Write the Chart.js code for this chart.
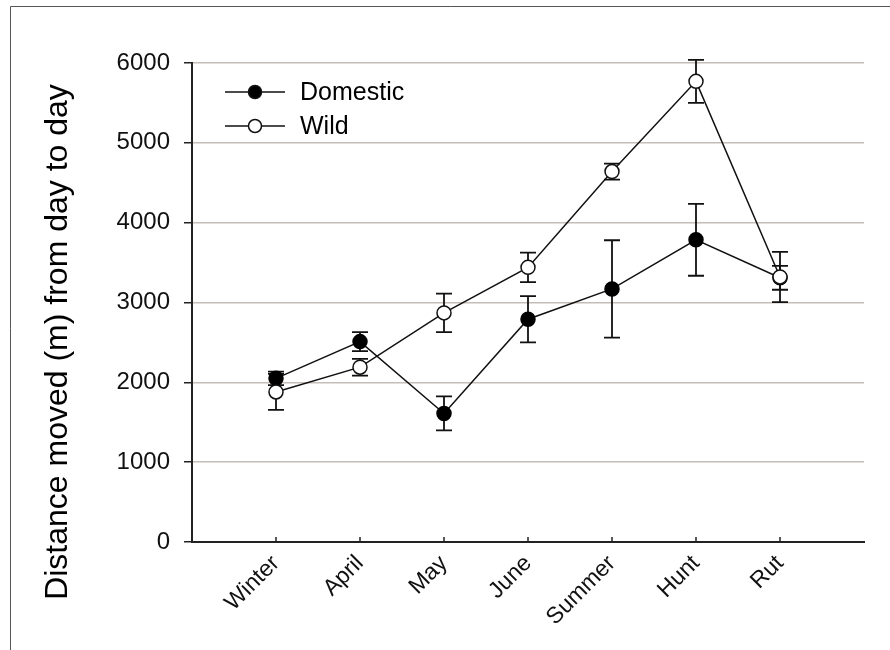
<!DOCTYPE html>
<html>
<head>
<meta charset="utf-8">
<script src="https://cdn.jsdelivr.net/npm/chart.js@4"></script>
<style>
  html, body { margin: 0; padding: 0; background: #fff; }
  #wrap { width: 890px; height: 650px; position: relative; }
</style>
</head>
<body>
<div id="wrap"><canvas id="chart" width="890" height="650"></canvas></div>
<script>
const categories = ["Winter", "April", "May", "June", "Summer", "Hunt", "Rut"];
const domestic = [2050, 2510, 1610, 2790, 3170, 3785, 3310];
const domesticErr = [85, 120, 213, 290, 610, 450, 150];
const wild = [1880, 2190, 2870, 3440, 4640, 5770, 3320];
const wildErr = [225, 105, 240, 185, 100, 270, 315];
const yTicks = [0, 1000, 2000, 3000, 4000, 5000, 6000];

const FONT = "'Liberation Sans', Arial, sans-serif";
const GRIDCOLOR = "#c6bdb9";
const AXISCOLOR = "#222";

function points(values) {
    return values.map((v, i) => ({ x: i + 1, y: v }));
}

// error bars, axis ticks, title, legend and frame
const decorations = {
    id: "decorations",
    beforeDatasetsDraw(chart) {
        const ctx = chart.ctx;
        const xs = chart.scales.x;
        const ys = chart.scales.y;
        const sets = [[domestic, domesticErr], [wild, wildErr]];
        ctx.save();
        ctx.strokeStyle = "#111";
        ctx.lineWidth = 1.8;
        sets.forEach(([vals, errs]) => {
            vals.forEach((v, i) => {
                const x = xs.getPixelForValue(i + 1);
                const top = ys.getPixelForValue(v + errs[i]);
                const bot = ys.getPixelForValue(v - errs[i]);
                ctx.beginPath();
                ctx.moveTo(x, top); ctx.lineTo(x, bot);
                ctx.moveTo(x - 8, top); ctx.lineTo(x + 8, top);
                ctx.moveTo(x - 8, bot); ctx.lineTo(x + 8, bot);
                ctx.stroke();
            });
        });
        // small inward ticks on x axis
        ctx.lineWidth = 1.5;
        ctx.strokeStyle = AXISCOLOR;
        categories.forEach((c, i) => {
            const x = xs.getPixelForValue(i + 1);
            ctx.beginPath();
            ctx.moveTo(x, chart.chartArea.bottom);
            ctx.lineTo(x, chart.chartArea.bottom - 5);
            ctx.stroke();
        });
        ctx.restore();
    },
    afterDraw(chart) {
        const ctx = chart.ctx;
        ctx.save();
        // frame
        ctx.strokeStyle = "#555";
        ctx.lineWidth = 1;
        ctx.beginPath();
        ctx.moveTo(10.5, 660);
        ctx.lineTo(10.5, 6.5);
        ctx.lineTo(900, 6.5);
        ctx.stroke();

        // y axis title
        ctx.fillStyle = "#000";
        ctx.font = "32px " + FONT;
        ctx.textAlign = "center";
        ctx.textBaseline = "middle";
        ctx.translate(58, 342);
        ctx.rotate(-Math.PI / 2);
        ctx.fillText("Distance moved (m) from day to day", 0, 0);
        ctx.restore();

        // legend
        ctx.save();
        const items = [
            { label: "Domestic", fill: "#000", y: 92 },
            { label: "Wild", fill: "#fff", y: 126 }
        ];
        items.forEach(it => {
            ctx.strokeStyle = "#111";
            ctx.lineWidth = 1.5;
            ctx.beginPath();
            ctx.moveTo(225, it.y); ctx.lineTo(285, it.y);
            ctx.stroke();
            ctx.beginPath();
            ctx.arc(255, it.y, 6.5, 0, Math.PI * 2);
            ctx.fillStyle = it.fill;
            ctx.fill();
            ctx.stroke();
            ctx.fillStyle = "#000";
            ctx.font = "25px " + FONT;
            ctx.textAlign = "left";
            ctx.textBaseline = "middle";
            ctx.fillText(it.label, 300, it.y + 1);
        });
        ctx.restore();
    }
};

const ctx = document.querySelector("#chart").getContext("2d");
const configuration = {
    type: "line",
    data: {
        datasets: [{
            label: "Domestic",
            data: points(domestic),
            borderColor: "#111",
            borderWidth: 1.5,
            pointRadius: 7,
            pointBackgroundColor: "#000",
            pointBorderColor: "#000",
            pointBorderWidth: 1.5,
            order: 1,
            clip: false
        }, {
            label: "Wild",
            data: points(wild),
            borderColor: "#111",
            borderWidth: 1.5,
            pointRadius: 7,
            pointBackgroundColor: "#fff",
            pointBorderColor: "#111",
            pointBorderWidth: 1.5,
            order: 0,
            clip: false
        }]
    },
    options: {
        responsive: false,
        animation: false,
        layout: { padding: { top: 63, right: 26, left: 0, bottom: 0 } },
        scales: {
            x: {
                type: "linear",
                min: 0,
                max: 8,
                afterFit: s => { s.height = 108; },
                afterBuildTicks: s => {
                    s.ticks = categories.map((c, i) => ({ value: i + 1 }));
                },
                grid: { drawOnChartArea: false, drawTicks: false },
                border: { color: AXISCOLOR, width: 2 },
                ticks: {
                    minRotation: 45,
                    maxRotation: 45,
                    padding: 8,
                    color: "#111",
                    font: { size: 23, family: FONT },
                    callback: v => categories[v - 1] || ""
                }
            },
            y: {
                min: 0,
                max: 6000,
                afterFit: s => { s.width = 192; },
                afterBuildTicks: s => {
                    s.ticks = yTicks.map(v => ({ value: v }));
                },
                grid: {
                    color: c => c.tick && c.tick.value === 0 ? "rgba(0,0,0,0)" : GRIDCOLOR,
                    lineWidth: 1.5,
                    tickColor: AXISCOLOR,
                    tickLength: 8
                },
                border: { color: AXISCOLOR, width: 2 },
                ticks: {
                    padding: 14,
                    color: "#111",
                    font: { size: 24, family: FONT },
                    callback: v => String(v)
                }
            }
        },
        plugins: {
            legend: { display: false },
            tooltip: { enabled: false }
        }
    },
    plugins: [decorations]
};
new Chart(ctx, configuration);
</script>
</body>
</html>
